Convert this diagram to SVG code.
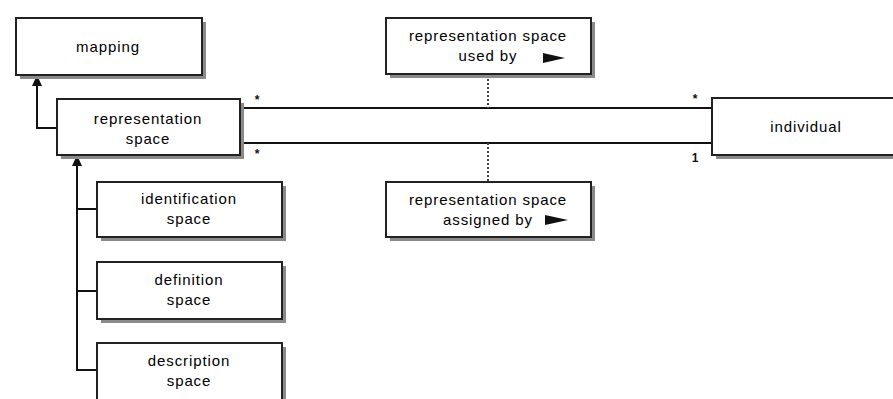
<svg xmlns="http://www.w3.org/2000/svg" width="893" height="399" viewBox="0 0 893 399">
<defs>
<style>
.sh{fill:#8a8a8a}
.bx{fill:#fff;stroke:#222;stroke-width:2}
.t{font-family:"Liberation Sans",Arial,sans-serif;font-size:15px;letter-spacing:0.9px;fill:#000;text-anchor:middle}
.ln{stroke:#111;stroke-width:2;fill:none}
.dl{stroke:#444;stroke-width:2;fill:none;stroke-dasharray:2 2}
.m{font-family:"Liberation Sans",Arial,sans-serif;font-size:12px;font-weight:bold;fill:#111;text-anchor:middle}
</style>
</defs>
<rect width="893" height="399" fill="#fff"/>
<g id="connectors">
<path class="ln" d="M57,128 H37 V78"/>
<path d="M37,75 L32,86 L42,86 Z" fill="#111"/>
<path class="ln" d="M97,209 H77 V160 M97,291 H77 M97,370 H77 V209"/>
<path d="M77,155 L72,166 L82,166 Z" fill="#111"/>
<path class="ln" d="M240,108 H712 M240,143 H712"/>
<path class="dl" d="M488,75 V108"/>
<path class="dl" d="M488,143 V182"/>
<text class="m" x="257" y="104">*</text>
<text class="m" x="257" y="158">*</text>
<text class="m" x="695" y="103">*</text>
<text class="m" x="695" y="162">1</text>
</g>
<g id="mapping">
<rect class="sh" x="20" y="22" width="186" height="57"/>
<rect class="bx" x="16" y="18" width="186" height="57"/>
<text class="t" x="108" y="52">mapping</text>
</g>
<g id="representation-space">
<rect class="sh" x="61" y="103" width="183" height="56"/>
<rect class="bx" x="57" y="99" width="183" height="56"/>
<text class="t" x="148" y="124">representation</text>
<text class="t" x="148" y="144">space</text>
</g>
<g id="used-by">
<rect class="sh" x="390" y="22" width="205" height="56"/>
<rect class="bx" x="386" y="18" width="205" height="56"/>
<text class="t" x="488" y="41">representation space</text>
<text class="t" x="488" y="61">used by</text>
<path d="M543,53 L565,58 L543,63 Z" fill="#111"/>
</g>
<g id="assigned-by">
<rect class="sh" x="390" y="186" width="205" height="55"/>
<rect class="bx" x="386" y="182" width="205" height="55"/>
<text class="t" x="488" y="205">representation space</text>
<text class="t" x="488" y="225">assigned by</text>
<path d="M545,215 L568,220 L545,225 Z" fill="#111"/>
</g>
<g id="individual">
<rect class="sh" x="716" y="102" width="185" height="57"/>
<rect class="bx" x="712" y="98" width="185" height="57"/>
<text class="t" x="806" y="132">individual</text>
</g>
<g id="identification-space">
<rect class="sh" x="101" y="186" width="185" height="55"/>
<rect class="bx" x="97" y="182" width="185" height="55"/>
<text class="t" x="189" y="204">identification</text>
<text class="t" x="189" y="224">space</text>
</g>
<g id="definition-space">
<rect class="sh" x="101" y="266" width="185" height="57"/>
<rect class="bx" x="97" y="262" width="185" height="57"/>
<text class="t" x="189" y="285">definition</text>
<text class="t" x="189" y="305">space</text>
</g>
<g id="description-space">
<rect class="sh" x="101" y="347" width="185" height="57"/>
<rect class="bx" x="97" y="343" width="185" height="57"/>
<text class="t" x="189" y="366">description</text>
<text class="t" x="189" y="386">space</text>
</g>
</svg>
